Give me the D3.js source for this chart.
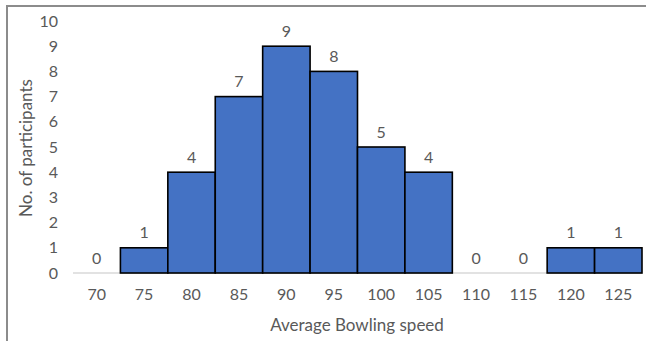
<!DOCTYPE html>
<html><head><meta charset="utf-8">
<script src="https://cdn.jsdelivr.net/npm/d3@7"></script>
<style>body{margin:0;background:#fff}svg{display:block}text{font-family:Lato,"Open Sans",sans-serif;fill:#595959}</style>
</head><body>
<script>
const categories = ["70","75","80","85","90","95","100","105","110","115","120","125"];
const counts = [0,1,4,7,9,8,5,4,0,0,1,1];
const yTicks = [0,1,2,3,4,5,6,7,8,9,10];
const xTitle = "Average Bowling speed";
const yTitle = "No. of participants";

const W = 646, H = 341;
const m = {left:73, right:4, top:21, bottom:68};
const svg = d3.select("body").append("svg").attr("width",W).attr("height",H);

// frame
svg.append("path").attr("d",`M7,${H} V6 H${W}`).attr("fill","none").attr("stroke","#8c8c8c").attr("stroke-width",2);

const x = d3.scaleBand().domain(categories).range([m.left, W-m.right]).padding(0);
const y = d3.scaleLinear().domain([0,10]).range([H-m.bottom, m.top]);

// baseline
svg.append("line").attr("x1",m.left).attr("x2",W-m.right).attr("y1",y(0)).attr("y2",y(0))
  .attr("stroke","#d9d9d9").attr("stroke-width",1.5);

const data = categories.map((c,i)=>({c, v:counts[i]}));
svg.append("g").selectAll("rect").data(data.filter(d=>d.v>0)).join("rect")
  .attr("x",d=>x(d.c)).attr("width",x.bandwidth())
  .attr("y",d=>y(d.v)).attr("height",d=>y(0)-y(d.v))
  .attr("fill","#4472C4").attr("stroke","#000").attr("stroke-width",1.6);

svg.append("g").selectAll("text").data(data).join("text")
  .attr("x",d=>x(d.c)+x.bandwidth()/2).attr("y",d=>y(d.v)-16)
  .attr("text-anchor","middle").attr("dominant-baseline","central")
  .attr("font-size",16).text(d=>d.v);

// y axis
const ya = svg.append("g").attr("transform",`translate(${m.left},0)`)
  .call(d3.axisLeft(y).tickValues(yTicks).tickSize(0).tickPadding(15));
ya.select(".domain").remove();
ya.selectAll("text").attr("font-size",16).attr("font-family","Lato,'Open Sans',sans-serif").attr("fill","#595959");

// x axis
const xa = svg.append("g").attr("transform",`translate(0,${y(0)})`)
  .call(d3.axisBottom(x).tickSize(0).tickPadding(16));
xa.select(".domain").remove();
xa.selectAll("text").attr("font-size",16).attr("font-family","Lato,'Open Sans',sans-serif").attr("fill","#595959");

svg.append("text").attr("x",357).attr("y",324).attr("text-anchor","middle")
  .attr("dominant-baseline","central").attr("font-size",17).text(xTitle);
svg.append("text").attr("transform","translate(25,148) rotate(-90)").attr("text-anchor","middle")
  .attr("dominant-baseline","central").attr("font-size",17).text(yTitle);
</script>
</body></html>
